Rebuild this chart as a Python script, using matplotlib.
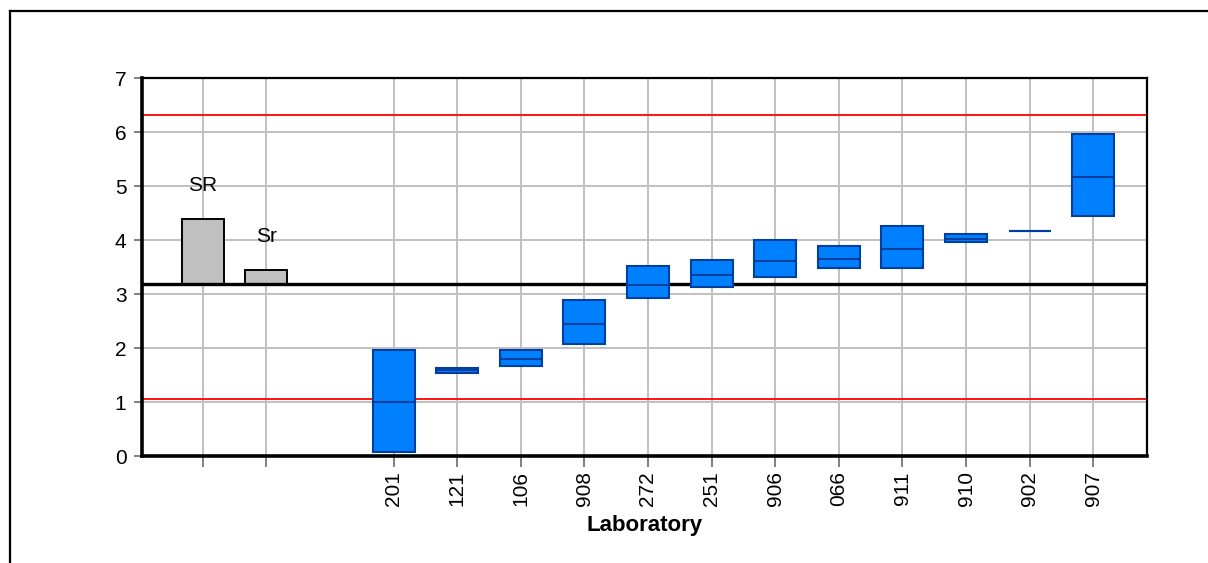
import matplotlib
matplotlib.use("Agg")
import matplotlib.pyplot as plt
from matplotlib.lines import Line2D

plt.rcParams['font.family'] = ['Liberation Sans', 'DejaVu Sans']

# Precision estimates (bars drawn upward from the assigned value)
prec_labels = ["SR", "Sr"]
prec_tops = [4.40, 3.45]

# Laboratory results: lower limit, mean, upper limit
labs = ["201", "121", "106", "908", "272", "251", "906", "066", "911", "910", "902", "907"]
lab_low = [0.07, 1.53, 1.66, 2.08, 2.92, 3.14, 3.32, 3.48, 3.48, 3.96, 4.17, 4.44]
lab_mid = [1.00, 1.59, 1.79, 2.44, 3.17, 3.35, 3.62, 3.65, 3.84, 4.03, 4.17, 5.18]
lab_high = [1.97, 1.64, 1.97, 2.89, 3.52, 3.63, 4.00, 3.89, 4.26, 4.11, 4.17, 5.97]

assigned_value = 3.19
limit_upper = 6.32
limit_lower = 1.06

W, H = 1208, 563
fig = plt.figure(figsize=(W / 100, H / 100), dpi=100)
fig.patch.set_facecolor("white")

# outer frame (top and left edges)
fig.add_artist(Line2D([9.5 / W, 9.5 / W], [0, 1 - 10.5 / H], transform=fig.transFigure,
                      color="black", lw=1.6))
fig.add_artist(Line2D([9.5 / W, 1], [1 - 10.5 / H, 1 - 10.5 / H], transform=fig.transFigure,
                      color="black", lw=1.6))

ax = fig.add_axes([141.7 / W, 1 - 456 / H, (1146.7 - 141.7) / W, (456 - 78.3) / H])

prec_x = [0, 1]
lab_x = list(range(3, 3 + len(labs)))
bw = 0.66

ax.set_xlim(-0.959, 14.84)
ax.set_ylim(0, 7)

# grid
for yv in range(0, 8):
    ax.axhline(yv, color="#c0c0c0", lw=1.4, zorder=0)
for xv in prec_x + lab_x:
    ax.axvline(xv, color="#c0c0c0", lw=1.4, zorder=0)

# control limits
ax.axhline(limit_upper, color="#ff0000", lw=1.3, zorder=1)
ax.axhline(limit_lower, color="#ff0000", lw=1.3, zorder=1)

# precision bars
ax.bar(prec_x, [t - assigned_value for t in prec_tops], bottom=assigned_value, width=bw,
       color="#c0c0c0", edgecolor="black", linewidth=1.4, zorder=2)
for x, t, lab in zip(prec_x, prec_tops, prec_labels):
    ax.annotate(lab, (x, t), xytext=(0, 24), textcoords="offset points",
                ha="center", va="center", fontsize=15)

# assigned value
ax.axhline(assigned_value, color="black", lw=2.4, zorder=3)

# laboratory boxes
ax.bar(lab_x, [h - l for h, l in zip(lab_high, lab_low)], bottom=lab_low, width=bw,
       color="#0080ff", edgecolor="#003f9e", linewidth=1.5, zorder=4)
ax.hlines(lab_mid, [x - bw / 2 for x in lab_x], [x + bw / 2 for x in lab_x],
          color="#003f9e", lw=1.5, zorder=5)

# axes styling
for side in ["top", "right"]:
    ax.spines[side].set_linewidth(1.6)
for side in ["left", "bottom"]:
    ax.spines[side].set_linewidth(2.6)
for s in ax.spines.values():
    s.set_zorder(6)

ax.set_yticks(range(0, 8))
ax.set_yticklabels([str(v) for v in range(0, 8)], fontsize=15)
ax.set_xticks(prec_x + lab_x)
ax.set_xticklabels(["", ""] + labs, rotation=90, fontsize=15)
ax.tick_params(axis="y", direction="out", length=6, width=1.4, color="#808080", pad=5)
ax.tick_params(axis="x", direction="out", length=8, width=1.4, color="#808080", pad=3)

ax.set_xlabel("Laboratory", fontsize=16, fontweight="bold", labelpad=6)

fig.savefig("out.png", dpi=100)
